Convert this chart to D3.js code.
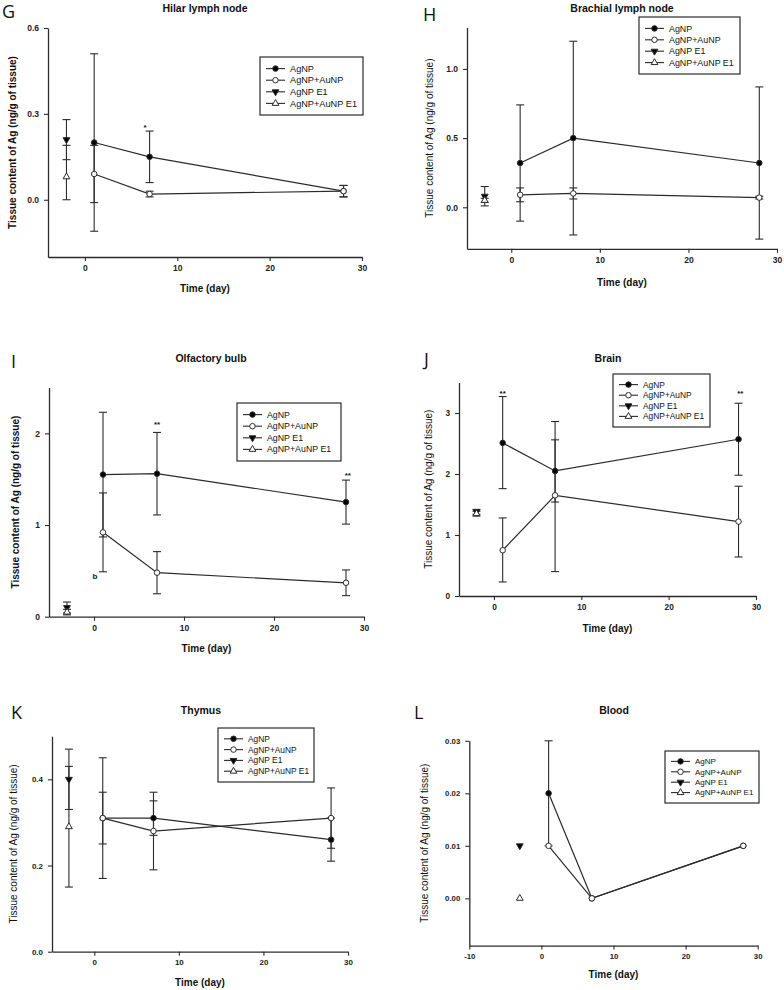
<!DOCTYPE html>
<html><head><meta charset="utf-8">
<script src="https://cdn.jsdelivr.net/npm/d3@7"></script>
<style>
body{margin:0;background:#fff}
svg text{font-family:Arial,"Liberation Sans",sans-serif;}
</style>
</head><body>
<svg id="chart" width="784" height="990"></svg>
<script>
// ---------------- DATA ----------------
const days = [1, 7, 28];
const seriesNames = ["AgNP", "AgNP+AuNP", "AgNP E1", "AgNP+AuNP E1"];
const xLabel = "Time (day)";
const yLabel = "Tissue content of Ag (ng/g of tissue)";

// each entry: [mean, lower, upper]
const hilarAgNP = [[0.20, -0.11, 0.51], [0.15, 0.06, 0.24], [0.03, 0.01, 0.05]];
const hilarAgAu = [[0.09, -0.01, 0.19], [0.02, 0.01, 0.03], [0.03, 0.01, 0.05]];
const hilarE1Day = -2;
const hilarAgNPE1 = [0.21, 0.14, 0.28];
const hilarAgAuE1 = [0.08, 0.00, 0.19];
const hilarYTicks = [0, 0.3, 0.6];
const hilarNotes = [{day: 6.5, v: 0.26, t: "*"}];

const brachAgNP = [[0.32, -0.10, 0.74], [0.50, -0.20, 1.20], [0.32, -0.23, 0.87]];
const brachAgAu = [[0.09, 0.04, 0.14], [0.10, 0.06, 0.14], [0.07, 0.06, 0.08]];
const brachE1Day = -3;
const brachAgNPE1 = [0.08, 0.01, 0.15];
const brachAgAuE1 = [0.05, 0.035, 0.065];
const brachYTicks = [0, 0.5, 1.0];
const brachNotes = [];

const olfAgNP = [[1.55, 0.87, 2.23], [1.56, 1.11, 2.01], [1.25, 1.01, 1.49]];
const olfAgAu = [[0.92, 0.49, 1.35], [0.48, 0.25, 0.71], [0.37, 0.23, 0.51]];
const olfE1Day = -3;
const olfAgNPE1 = [0.10, 0.04, 0.16];
const olfAgAuE1 = [0.05, 0.02, 0.08];
const olfYTicks = [0, 1, 2];
const olfNotes = [{day: 7, v: 2.12, t: "**"}, {day: 28.2, v: 1.57, t: "**"}, {day: 0.1, v: 0.44, t: "b"}];

const brainAgNP = [[2.51, 1.76, 3.27], [2.05, 1.54, 2.86], [2.57, 1.98, 3.16]];
const brainAgAu = [[0.75, 0.23, 1.28], [1.65, 0.40, 2.56], [1.22, 0.64, 1.80]];
const brainE1Day = -2;
const brainAgNPE1 = [1.38, 1.34, 1.42];
const brainAgAuE1 = [1.35, 1.31, 1.39];
const brainYTicks = [0, 1, 2, 3];
const brainNotes = [{day: 1, v: 3.35, t: "**"}, {day: 28.2, v: 3.35, t: "**"}];

const thyAgNP = [[0.31, 0.25, 0.37], [0.31, 0.27, 0.35], [0.26, 0.21, 0.31]];
const thyAgAu = [[0.31, 0.17, 0.45], [0.28, 0.19, 0.37], [0.31, 0.24, 0.38]];
const thyE1Day = -3;
const thyAgNPE1 = [0.40, 0.33, 0.47];
const thyAgAuE1 = [0.29, 0.15, 0.43];
const thyYTicks = [0, 0.2, 0.4];
const thyNotes = [];

const bloodAgNP = [[0.02, 0.01, 0.03], [0.00, 0.00, 0.00], [0.01, 0.01, 0.01]];
const bloodAgAu = [[0.01, 0.01, 0.01], [0.00, 0.00, 0.00], [0.01, 0.01, 0.01]];
const bloodE1Day = -3;
const bloodAgNPE1 = [0.01, 0.01, 0.01];
const bloodAgAuE1 = [0.00, 0.00, 0.00];
const bloodYTicks = [0, 0.01, 0.02, 0.03];
const bloodNotes = [];

const xTicksMain = [0, 10, 20, 30];
const xTicksBlood = [-10, 0, 10, 20, 30];

const panels = [
  {id: "G", title: "Hilar lymph node", agnp: hilarAgNP, agau: hilarAgAu, e1Day: hilarE1Day, agnpE1: hilarAgNPE1, agauE1: hilarAgAuE1, yTicks: hilarYTicks, xTicks: xTicksMain, yFmt: ".1f", notes: hilarNotes},
  {id: "H", title: "Brachial lymph node", agnp: brachAgNP, agau: brachAgAu, e1Day: brachE1Day, agnpE1: brachAgNPE1, agauE1: brachAgAuE1, yTicks: brachYTicks, xTicks: xTicksMain, yFmt: ".1f", notes: brachNotes},
  {id: "I", title: "Olfactory bulb", agnp: olfAgNP, agau: olfAgAu, e1Day: olfE1Day, agnpE1: olfAgNPE1, agauE1: olfAgAuE1, yTicks: olfYTicks, xTicks: xTicksMain, yFmt: "d", notes: olfNotes},
  {id: "J", title: "Brain", agnp: brainAgNP, agau: brainAgAu, e1Day: brainE1Day, agnpE1: brainAgNPE1, agauE1: brainAgAuE1, yTicks: brainYTicks, xTicks: xTicksMain, yFmt: "d", notes: brainNotes},
  {id: "K", title: "Thymus", agnp: thyAgNP, agau: thyAgAu, e1Day: thyE1Day, agnpE1: thyAgNPE1, agauE1: thyAgAuE1, yTicks: thyYTicks, xTicks: xTicksMain, yFmt: ".1f", notes: thyNotes},
  {id: "L", title: "Blood", agnp: bloodAgNP, agau: bloodAgAu, e1Day: bloodE1Day, agnpE1: bloodAgNPE1, agauE1: bloodAgAuE1, yTicks: bloodYTicks, xTicks: xTicksBlood, yFmt: ".2f", notes: bloodNotes}
];

// ---------------- LAYOUT ----------------
const layouts = {
  G: {x0: 48, x1: 362, yTop: 28, yBot: 257, xDom: [-4, 30], yDom: [-0.2, 0.6], titleXY: [205, 12], letterXY: [2, 18], ylabX: 12, xlabY: 291.5, legend: [260, 57, 103, 58], legFont: 9.2, ylabBold: true, tickFont: 8.5},
  H: {x0: 467, x1: 777, yTop: 27.4, yBot: 248.8, xDom: [-5, 30], yDom: [-0.3, 1.3], titleXY: [622, 12], letterXY: [423, 21], ylabX: 429, xlabY: 285.5, legend: [639, 17, 101, 57], legFont: 8.9, ylabBold: false, tickFont: 8.5},
  I: {x0: 49, x1: 364, yTop: 387.5, yBot: 616.7, xDom: [-5, 30], yDom: [0, 2.5], titleXY: [211, 362], letterXY: [11, 368], ylabX: 15, xlabY: 651.5, legend: [237, 403, 104, 58], legFont: 8.8, ylabBold: true, tickFont: 8.5},
  J: {x0: 459, x1: 756, yTop: 382.5, yBot: 596, xDom: [-4, 30], yDom: [0, 3.5], titleXY: [608, 362], letterXY: [424, 366], ylabX: 428, xlabY: 631.5, legend: [613, 374, 97, 53], legFont: 8.4, ylabBold: false, tickFont: 8.3},
  K: {x0: 52, x1: 348, yTop: 736.2, yBot: 951.7, xDom: [-5, 30], yDom: [0, 0.5], titleXY: [201, 714], letterXY: [11, 719], ylabX: 13, xlabY: 985.5, legend: [218, 728, 96, 54], legFont: 8.4, ylabBold: false, tickFont: 8},
  L: {x0: 469.3, x1: 757.7, yTop: 740.8, yBot: 945.6, xDom: [-10, 30], yDom: [-0.009, 0.03], titleXY: [614, 714], letterXY: [414, 719], ylabX: 424, xlabY: 977.5, legend: [665, 751, 94, 52], legFont: 8, ylabBold: false, tickFont: 7.8}
};

const INK = "#2b2b2b";
const svg = d3.select("#chart");

function symPath(kind) {
  if (kind === "circle") return d3.symbol().type(d3.symbolCircle).size(24)();
  return d3.symbol().type(d3.symbolTriangle).size(20)();
}

function drawMarker(g, kind, fill, cx, cy) {
  const p = g.append("path")
    .attr("d", symPath(kind))
    .attr("fill", fill)
    .attr("stroke", INK)
    .attr("stroke-width", 1);
  let t = `translate(${cx},${cy})`;
  if (kind === "tri-down") t += " rotate(180)";
  p.attr("transform", t);
}

function drawPanel(p, L) {
  const g = svg.append("g");
  const x = d3.scaleLinear().domain(L.xDom).range([L.x0, L.x1]);
  const y = d3.scaleLinear().domain(L.yDom).range([L.yBot, L.yTop]);

  const xa = g.append("g").attr("transform", `translate(0,${L.yBot})`)
    .call(d3.axisBottom(x).tickValues(p.xTicks).tickSize(4).tickPadding(4).tickSizeOuter(0).tickFormat(d => String(d)));
  const ya = g.append("g").attr("transform", `translate(${L.x0},0)`)
    .call(d3.axisLeft(y).tickValues(p.yTicks).tickSize(4).tickPadding(5).tickSizeOuter(0).tickFormat(d3.format(p.yFmt)));
  [xa, ya].forEach(a => {
    a.select(".domain").attr("stroke", INK).attr("stroke-width", 1.3);
    a.selectAll(".tick line").attr("stroke", INK).attr("stroke-width", 1.1);
    a.selectAll(".tick text").attr("fill", "#222").attr("font-size", L.tickFont).attr("font-weight", "bold").attr("font-family", "Arial, 'Liberation Sans', sans-serif");
  });

  // title, letter, labels
  g.append("text").attr("x", L.titleXY[0]).attr("y", L.titleXY[1]).attr("text-anchor", "middle")
    .attr("font-size", 10.5).attr("font-weight", "bold").attr("fill", "#111").text(p.title);
  g.append("text").attr("x", L.letterXY[0]).attr("y", L.letterXY[1])
    .attr("font-size", 18).attr("fill", "#111").style("font-family", "'Open Sans', 'DejaVu Sans', sans-serif").text(p.id);
  g.append("text").attr("x", (L.x0 + L.x1) / 2).attr("y", L.xlabY).attr("text-anchor", "middle")
    .attr("font-size", 10).attr("font-weight", "bold").attr("fill", "#111").text(xLabel);
  g.append("text").attr("transform", `translate(${L.ylabX},${(L.yTop + L.yBot) / 2}) rotate(-90)`)
    .attr("text-anchor", "middle").attr("dy", "0.35em")
    .attr("font-size", 10).attr("font-weight", L.ylabBold ? "bold" : "normal").attr("fill", "#111").text(yLabel);

  const toPts = arr => days.map((d, i) => ({x: d, v: arr[i][0], lo: arr[i][1], hi: arr[i][2]}));
  const series = [
    {pts: toPts(p.agnp), kind: "circle", fill: "#000", line: true},
    {pts: toPts(p.agau), kind: "circle", fill: "#fff", line: true},
    {pts: [{x: p.e1Day, v: p.agnpE1[0], lo: p.agnpE1[1], hi: p.agnpE1[2]}], kind: "tri-down", fill: "#000", line: false},
    {pts: [{x: p.e1Day, v: p.agauE1[0], lo: p.agauE1[1], hi: p.agauE1[2]}], kind: "tri-up", fill: "#fff", line: false}
  ];

  // error bars
  const eb = g.append("g").attr("stroke", INK).attr("stroke-width", 1.1);
  series.forEach(s => s.pts.forEach(d => {
    if (d.lo === d.hi) return;
    const cx = x(d.x);
    eb.append("line").attr("x1", cx).attr("x2", cx).attr("y1", y(d.lo)).attr("y2", y(d.hi));
    [d.lo, d.hi].forEach(b => {
      if (b === d.v) return;
      eb.append("line").attr("x1", cx - 4).attr("x2", cx + 4).attr("y1", y(b)).attr("y2", y(b));
    });
  }));

  // lines
  const lineGen = d3.line().x(d => x(d.x)).y(d => y(d.v));
  series.filter(s => s.line).forEach(s => {
    g.append("path").datum(s.pts).attr("d", lineGen).attr("fill", "none").attr("stroke", INK).attr("stroke-width", 1.2);
  });

  // markers
  series.forEach(s => s.pts.forEach(d => drawMarker(g, s.kind, s.fill, x(d.x), y(d.v))));

  // annotations
  p.notes.forEach(n => {
    g.append("text").attr("x", x(n.day)).attr("y", y(n.v)).attr("text-anchor", "middle")
      .attr("dy", n.t === "b" ? "0.35em" : "0.6em")
      .attr("font-size", 8).attr("font-weight", "bold").attr("fill", "#111").text(n.t);
  });

  // legend
  const [lx, ly, lw, lh] = L.legend;
  const lg = g.append("g");
  lg.append("rect").attr("x", lx).attr("y", ly).attr("width", lw).attr("height", lh)
    .attr("fill", "#fff").attr("stroke", INK).attr("stroke-width", 1.2);
  const kinds = [["circle", "#000"], ["circle", "#fff"], ["tri-down", "#000"], ["tri-up", "#fff"]];
  seriesNames.forEach((name, i) => {
    const ry = ly + (i + 1) * lh / 5;
    lg.append("line").attr("x1", lx + 6).attr("x2", lx + 25).attr("y1", ry).attr("y2", ry)
      .attr("stroke", INK).attr("stroke-width", 1.1);
    drawMarker(lg, kinds[i][0], kinds[i][1], lx + 15.5, ry);
    lg.append("text").attr("x", lx + 30).attr("y", ry).attr("dy", "0.35em")
      .attr("font-size", L.legFont).attr("fill", "#111").text(name);
  });
}

panels.forEach(p => drawPanel(p, layouts[p.id]));
</script>
</body></html>
